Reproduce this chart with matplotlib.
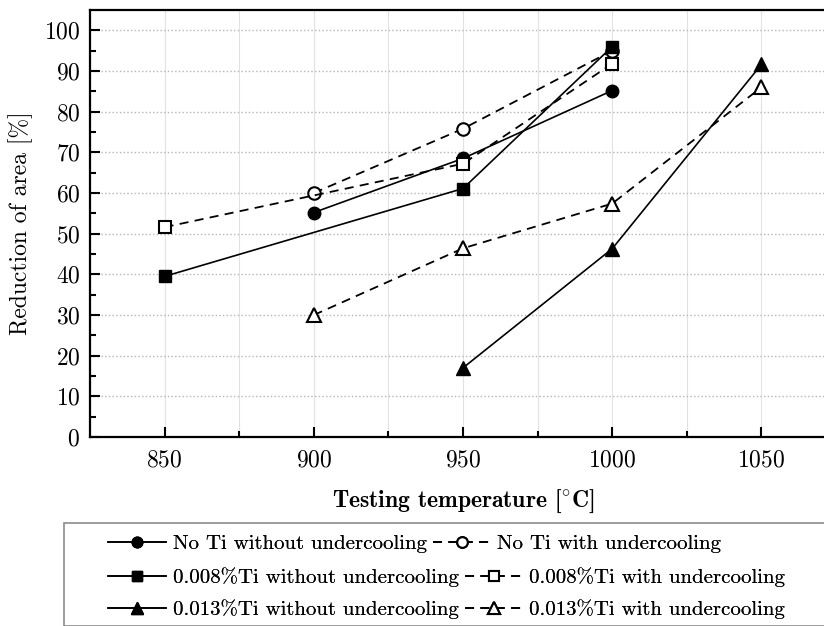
import matplotlib
matplotlib.use("Agg")
import matplotlib.pyplot as plt
from matplotlib.patches import Rectangle

plt.rcParams['font.family'] = ['cmr10', 'DejaVu Serif']
plt.rcParams['mathtext.fontset'] = 'cm'
plt.rcParams['axes.formatter.use_mathtext'] = True

# Reduction of area [%] vs testing temperature [°C]
temp_noti = [900, 950, 1000]
ra_noti_without = [55.2, 68.5, 85.2]
ra_noti_with = [60.0, 75.8, 95.0]

temp_ti008 = [850, 950, 1000]
ra_ti008_without = [39.5, 61.1, 96.0]
ra_ti008_with = [51.6, 67.2, 91.8]

temp_ti013_without = [950, 1000, 1050]
ra_ti013_without = [17.0, 46.3, 91.6]
temp_ti013_with = [900, 950, 1000, 1050]
ra_ti013_with = [30.0, 46.4, 57.4, 86.0]

x_ticks = [850, 900, 950, 1000, 1050]
y_ticks = list(range(0, 101, 10))

FS = 17
LEG_FS = 15

fig = plt.figure(figsize=(8.24, 6.26), dpi=100)
ax = fig.add_axes([90 / 824, 1 - 437 / 626, (836 - 90) / 824, (437 - 10) / 626])

solid = dict(color='black', linestyle='-', linewidth=1.2)
dashed = dict(color='black', linestyle=(0, (5, 3.5)), linewidth=1.3)

lines = {}
lines['noti_wo'], = ax.plot(temp_noti, ra_noti_without, marker='o', markersize=9,
                            markerfacecolor='black', markeredgecolor='black', **solid)
lines['noti_w'], = ax.plot(temp_noti, ra_noti_with, marker='o', markersize=9,
                           markerfacecolor='white', markeredgecolor='black',
                           markeredgewidth=1.5, **dashed)
lines['ti008_wo'], = ax.plot(temp_ti008, ra_ti008_without, marker='s', markersize=8,
                             markerfacecolor='black', markeredgecolor='black', **solid)
lines['ti008_w'], = ax.plot(temp_ti008, ra_ti008_with, marker='s', markersize=8,
                            markerfacecolor='white', markeredgecolor='black',
                            markeredgewidth=1.5, **dashed)
lines['ti013_wo'], = ax.plot(temp_ti013_without, ra_ti013_without, marker='^', markersize=10,
                             markerfacecolor='black', markeredgecolor='black', **solid)
lines['ti013_w'], = ax.plot(temp_ti013_with, ra_ti013_with, marker='^', markersize=10,
                            markerfacecolor='white', markeredgecolor='black',
                            markeredgewidth=1.5, **dashed)

ax.set_xlim(825, 1075)
ax.set_ylim(0, 105)
ax.set_xticks(x_ticks)
ax.set_xticks([875, 925, 975, 1025], minor=True)
ax.set_yticks(y_ticks)
ax.set_yticks([5, 15, 25, 35, 45, 55, 65, 75, 85, 95], minor=True)
ax.tick_params(which='both', direction='in', width=1.5, labelsize=FS)
ax.tick_params(which='major', length=7.5)
ax.tick_params(which='minor', length=4)
ax.tick_params(axis='y', pad=7)
ax.tick_params(axis='x', pad=9)

ax.grid(True, axis='y', which='major', linestyle=':', color='#b5b5b5', linewidth=1.0)
ax.grid(True, axis='x', which='both', linestyle='-', color='#e2e2e2', linewidth=0.8)
ax.set_axisbelow(True)
for sp in ax.spines.values():
    sp.set_linewidth(1.6)

ax.set_ylabel('Reduction of area [%]', fontsize=FS, labelpad=8)
ax.set_xlabel(r'Testing temperature [$^{\circ}$C]', fontsize=FS,
              family=['cmb10', 'DejaVu Serif'], labelpad=12)

# legend box
fig.patches.append(Rectangle((64 / 824, 0.0), 0.98, 1 - 522 / 626 - 0.002,
                             transform=fig.transFigure, fill=False,
                             edgecolor='#8c8c8c', linewidth=1.2))

rows = [
    (['noti_wo', 'noti_w'], ['No Ti without undercooling', 'No Ti with undercooling']),
    (['ti008_wo', 'ti008_w'], ['0.008%Ti without undercooling', '0.008%Ti with undercooling']),
    (['ti013_wo', 'ti013_w'], ['0.013%Ti without undercooling', '0.013%Ti with undercooling']),
]
row_y = [544, 577, 609]
for (keys, labels), y in zip(rows, row_y):
    leg = fig.legend([lines[k] for k in keys], labels, ncol=2, loc='center left',
                     bbox_to_anchor=(108 / 824, 1 - y / 626), frameon=False,
                     fontsize=LEG_FS, handlelength=2.8, handletextpad=0.3,
                     columnspacing=0.3, borderpad=0, borderaxespad=0,
                     markerscale=0.85)
    fig.add_artist(leg)

fig.savefig('out.png', dpi=100)
